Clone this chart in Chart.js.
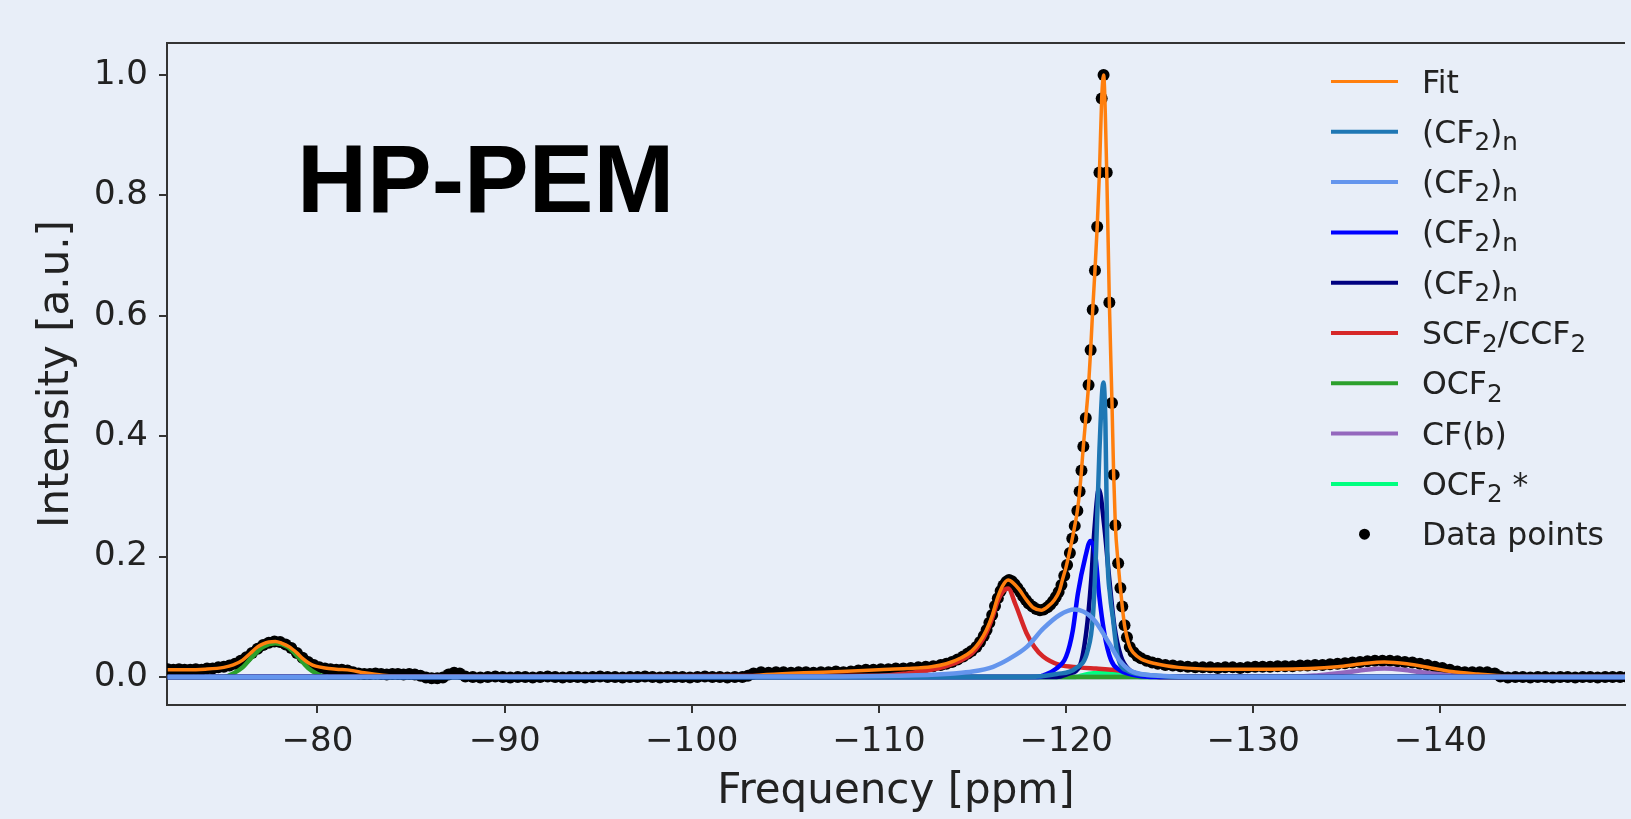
<!DOCTYPE html>
<html>
<head>
<meta charset="utf-8">
<script src="https://cdn.jsdelivr.net/npm/chart.js@4/dist/chart.umd.min.js"></script>
<style>
  html, body { margin: 0; padding: 0; background: #e8eef8; overflow: hidden; }
  #wrap { width: 1631px; height: 819px; }
</style>
</head>
<body>
<div id="wrap"><canvas id="spectrum" width="1631" height="819"></canvas></div>
<script>
// ---- data (ppm, intensity) ----
const xTicks = [-80, -90, -100, -110, -120, -130, -140];
const yTicks = [0, 0.2, 0.4, 0.6, 0.8, 1.0];

const seriesLabels = ['Fit', '(CF_2)_n', '(CF_2)_n', '(CF_2)_n', '(CF_2)_n',
  'SCF_2/CCF_2', 'OCF_2', 'CF(b)', 'OCF_2 *', 'Data points'];
const seriesColors = ['#ff7f0e', '#1f77b4', '#6495ed', '#0000ff', '#000080',
  '#d62728', '#2ca02c', '#9467bd', '#00ff7f', '#000000'];

const fitCurve = [
  [-72,.012],[-73,.012],[-74,.013],[-75,.016],[-75.5,.02],[-76,.028],[-76.4,.039],[-76.8,.05],
  [-77.1,.055],[-77.4,.058],[-77.75,.059],[-78.1,.056],[-78.5,.05],[-78.9,.04],[-79.2,.031],
  [-79.6,.022],[-79.9,.018],[-80.4,.015],[-81,.013],[-81.8,.011],[-82.5,.007],[-83.5,.003],
  [-85,.0015],[-103,.0015],[-104,.004],[-106,.007],[-108,.009],[-110,.012],[-111.5,.014],
  [-112.8,.017],[-113.6,.022],[-114.4,.032],[-114.95,.043],[-115.37,.058],[-115.74,.078],
  [-116.06,.103],[-116.33,.131],[-116.6,.151],[-116.9,.161],[-117.18,.156],[-117.5,.145],
  [-117.88,.128],[-118.25,.115],[-118.67,.111],[-119.06,.118],[-119.37,.128],[-119.64,.143],
  [-119.8,.161],[-120,.183],[-120.17,.206],[-120.33,.23],[-120.46,.251],[-120.6,.276],
  [-120.72,.308],[-120.82,.343],[-120.92,.383],[-121.05,.43],[-121.2,.485],[-121.31,.543],
  [-121.42,.61],[-121.54,.675],[-121.66,.748],[-121.78,.838],[-121.9,.961],[-122,1.0],
  [-122.17,.838],[-122.31,.622],[-122.45,.455],[-122.54,.336],[-122.63,.252],[-122.78,.189],
  [-122.9,.148],[-123,.117],[-123.12,.086],[-123.25,.066],[-123.4,.05],[-123.6,.04],
  [-124,.03],[-124.8,.022],[-126,.016],[-128,.013],[-131,.013],[-133,.014],[-134.5,.017],
  [-135.8,.022],[-137,.025],[-138.2,.022],[-139.5,.015],[-140.6,.009],[-142,.005],
  [-143.5,.002],[-150,.0015]
];

const cf2nA = [
  [-72,0],[-118,0],[-119.5,.005],[-120.5,.014],[-121.16,.045],[-121.43,.1],[-121.6,.21],
  [-121.78,.377],[-121.99,.489],[-122.1,.42],[-122.2,.21],[-122.35,.135],[-122.49,.1],
  [-122.76,.034],[-123.3,.01],[-124.5,.003],[-126,0],[-150,0]
];
const cf2nB = [
  [-72,0],[-108,.001],[-112,.003],[-114,.006],[-115,.009],[-116.1,.017],[-117,.031],
  [-117.9,.05],[-118.8,.081],[-119.65,.103],[-120.45,.112],[-121.43,.097],[-122.3,.056],
  [-122.84,.028],[-123.37,.012],[-124,.005],[-125,.002],[-127,0],[-150,0]
];
const cf2nC = [
  [-72,0],[-118.5,0],[-118.8,.003],[-119.47,.014],[-120,.034],[-120.36,.078],[-120.63,.139],
  [-121.03,.2],[-121.3,.226],[-121.57,.2],[-121.75,.14],[-122.04,.073],[-122.4,.028],
  [-122.84,.012],[-123.5,.004],[-124.5,0],[-150,0]
];
const cf2nD = [
  [-72,0],[-119.5,0],[-120.18,.006],[-120.71,.017],[-121.07,.073],[-121.34,.161],
  [-121.51,.244],[-121.75,.312],[-122.04,.25],[-122.31,.161],[-122.58,.084],[-122.93,.034],
  [-123.37,.012],[-124,.004],[-125,0],[-150,0]
];
const scf2 = [
  [-72,0],[-110,.002],[-111.5,.006],[-112.8,.012],[-113.6,.018],[-114.4,.028],[-114.95,.039],
  [-115.37,.054],[-115.74,.074],[-116.06,.099],[-116.33,.125],[-116.6,.141],[-116.9,.147],
  [-117.3,.12],[-117.88,.073],[-118.3,.05],[-118.77,.034],[-119.65,.02],[-120.7,.016],
  [-121.6,.014],[-122.5,.012],[-123.2,.009],[-123.8,.004],[-125,0],[-150,0]
];
const ocf2 = [
  [-72,0],[-75,0],[-75.5,.006],[-76,.016],[-76.5,.033],[-77.1,.05],[-77.75,.056],
  [-78.4,.05],[-79,.032],[-79.5,.015],[-80,.005],[-80.6,0],[-150,0]
];
const cfb = [
  [-72,0],[-132,0],[-133.5,.003],[-135,.008],[-136,.012],[-137,.014],[-138,.012],
  [-139,.008],[-140.5,.003],[-142,0],[-150,0]
];
const ocf2Star = [
  [-72,0],[-120.5,0],[-121,.004],[-121.8,.007],[-122.6,.005],[-123.4,.002],[-124,0],[-150,0]
];

const dataPoints = [
  [-72,.013],[-72.3,.012],[-72.6,.013],[-72.9,.012],[-73.2,.012],[-73.5,.013],[-73.8,.012],
  [-74.1,.014],[-74.4,.014],[-74.7,.016],[-75,.017],[-75.3,.019],[-75.6,.022],[-75.9,.027],
  [-76.2,.033],[-76.5,.04],[-76.8,.047],[-77.1,.053],[-77.4,.057],[-77.7,.059],[-78,.058],
  [-78.3,.054],[-78.6,.048],[-78.9,.04],[-79.2,.032],[-79.5,.025],[-79.8,.02],[-80.1,.016],
  [-80.4,.014],[-80.7,.013],[-81,.012],[-81.3,.012],[-81.6,.011],[-81.9,.008],
  [-82.2,.006],[-82.5,.005],[-82.8,.005],[-83.1,.006],[-83.4,.005],[-83.7,.004],[-84,.005],
  [-84.3,.005],[-84.6,.004],[-84.9,.005],[-85.2,.004],[-85.5,.002],[-85.8,-.001],[-86.1,-.002],
  [-86.4,-.002],[-86.7,-.001],[-87,.004],[-87.3,.007],[-87.6,.006],[-87.9,.001],
  [-88.3,0],[-88.7,-.001],[-89.1,0],[-89.5,.001],[-89.9,0],[-90.3,-.001],[-90.7,0],[-91.1,0],
  [-91.5,-.001],[-91.9,0],[-92.3,.001],[-92.7,0],[-93.1,-.001],[-93.5,0],[-93.9,0],
  [-94.3,-.001],[-94.7,0],[-95.1,.001],[-95.5,0],[-95.9,0],[-96.3,-.001],[-96.7,0],[-97.1,0],
  [-97.5,.001],[-97.9,0],[-98.3,-.001],[-98.7,0],[-99.1,0],[-99.5,0],[-99.9,-.001],[-100.3,0],
  [-100.7,.001],[-101.1,0],[-101.5,0],[-101.9,-.001],[-102.3,0],[-102.7,0],[-103,.002],
  [-103.3,.006],[-103.7,.008],[-104.1,.007],[-104.5,.008],[-104.9,.008],[-105.3,.007],
  [-105.7,.008],[-106.1,.008],[-106.5,.007],[-106.9,.008],[-107.3,.008],[-107.7,.009],
  [-108.1,.008],[-108.5,.009],[-108.9,.011],[-109.3,.012],[-109.7,.012],[-110.1,.013],
  [-110.5,.013],[-110.9,.014],[-111.3,.014],[-111.7,.015],[-112.1,.016],[-112.5,.017],
  [-112.9,.018],[-113.3,.02],[-113.6,.022],[-113.9,.025],[-114.2,.029],[-114.5,.034],
  [-114.75,.039],[-114.95,.043],[-115.2,.05],[-115.4,.058],[-115.6,.068],[-115.75,.078],
  [-115.9,.09],[-116.05,.103],[-116.2,.118],[-116.35,.131],[-116.5,.143],[-116.65,.152],
  [-116.8,.158],[-116.95,.161],[-117.1,.159],[-117.25,.154],[-117.4,.148],[-117.55,.141],
  [-117.7,.134],[-117.85,.128],[-118,.122],[-118.2,.117],[-118.4,.113],[-118.6,.111],
  [-118.8,.112],[-119,.116],[-119.15,.12],[-119.3,.126],[-119.45,.133],[-119.6,.141],
  [-119.75,.153],[-119.9,.168],[-120.05,.186],[-120.2,.206],[-120.33,.23],[-120.46,.251],
  [-120.6,.276],[-120.72,.308],[-120.82,.343],[-120.92,.383],[-121.05,.43],[-121.2,.485],
  [-121.31,.543],[-121.42,.61],[-121.54,.675],[-121.66,.748],[-121.78,.838],[-121.9,.961],
  [-122,1.0],[-122.17,.838],[-122.31,.622],[-122.45,.455],[-122.54,.336],[-122.63,.252],
  [-122.78,.189],[-122.9,.148],[-123,.117],[-123.12,.086],[-123.25,.066],[-123.4,.05],
  [-123.6,.041],[-123.8,.035],[-124,.031],[-124.3,.027],[-124.6,.024],[-124.9,.022],
  [-125.3,.02],[-125.7,.019],[-126.1,.018],[-126.5,.017],[-126.9,.016],[-127.3,.016],
  [-127.7,.016],[-128.1,.015],[-128.5,.016],[-128.9,.016],[-129.3,.015],[-129.7,.016],
  [-130.1,.017],[-130.5,.017],[-130.9,.017],[-131.3,.018],[-131.7,.018],[-132.1,.018],
  [-132.5,.019],[-132.9,.019],[-133.3,.02],[-133.7,.02],[-134.1,.021],[-134.5,.022],
  [-134.9,.023],[-135.3,.024],[-135.7,.025],[-136.1,.026],[-136.5,.027],[-136.9,.027],
  [-137.3,.027],[-137.7,.026],[-138.1,.025],[-138.5,.024],[-138.9,.022],[-139.3,.02],
  [-139.7,.017],[-140.1,.015],[-140.5,.012],[-140.9,.009],[-141.3,.008],[-141.7,.008],
  [-142.1,.008],[-142.5,.008],[-142.9,.006],[-143.2,.001],[-143.6,-.001],[-144,0],[-144.4,0],
  [-144.8,-.001],[-145.2,0],[-145.6,0],[-146,-.001],[-146.4,0],[-146.8,0],[-147.2,-.001],
  [-147.6,0],[-148,0],[-148.4,-.001],[-148.8,0],[-149.2,0],[-149.6,0],[-150,0]
];

// ---- chart ----
const BG = '#e8eef8';
const INK = '#222';
const AXIS = '#333';

const toXY = arr => arr.map(([x, y]) => ({ x, y }));
const plain = s => s.replace(/_2/g, '\u2082').replace(/_n/g, '\u2099');

// order: lower value is painted later (on top)
function lineSet(i, pts, width, order) {
  return {
    label: plain(seriesLabels[i]),
    data: toXY(pts),
    borderColor: seriesColors[i],
    backgroundColor: seriesColors[i],
    borderWidth: width,
    pointRadius: 0,
    cubicInterpolationMode: 'monotone',
    fill: false,
    order,
  };
}

const datasets = [
  lineSet(0, fitCurve, 3.5, 2),
  lineSet(1, cf2nA, 4.5, 1),
  lineSet(2, cf2nB, 4.5, 0),
  lineSet(3, cf2nC, 4.5, 1),
  lineSet(4, cf2nD, 4.5, 1),
  lineSet(5, scf2, 4.5, 3),
  lineSet(6, ocf2, 4.5, 3),
  lineSet(7, cfb, 4.5, 3),
  lineSet(8, ocf2Star, 4.5, 3),
  {
    label: seriesLabels[9],
    data: toXY(dataPoints),
    showLine: false,
    pointRadius: 6,
    pointBorderWidth: 0,
    pointBackgroundColor: '#000',
    borderColor: '#000',
    backgroundColor: '#000',
    order: 4,
  },
];

// background, top frame line, HP-PEM label and the in-plot legend
const decor = {
  id: 'decor',
  beforeDraw(chart) {
    const { ctx, width, height } = chart;
    ctx.save();
    ctx.fillStyle = BG;
    ctx.fillRect(0, 0, width, height);
    ctx.restore();
  },
  afterDraw(chart) {
    const { ctx, chartArea: a } = chart;
    ctx.save();
    ctx.strokeStyle = AXIS;
    ctx.lineWidth = 2;
    ctx.beginPath();
    ctx.moveTo(a.left - 1, a.top);
    ctx.lineTo(a.right, a.top);
    ctx.stroke();

    ctx.fillStyle = '#000';
    ctx.font = 'bold 97px "Liberation Sans", Arial, sans-serif';
    ctx.textBaseline = 'alphabetic';
    ctx.fillText('HP-PEM', a.left + 130, a.top + 169);

    // legend, drawn in the matplotlib order
    const size = 31.5;
    const x0 = a.right - 294, x1 = a.right - 227, tx = a.right - 203;
    seriesLabels.forEach((lab, i) => {
      const y = a.top + 38.5 + i * 50.3;
      if (i === seriesLabels.length - 1) {
        ctx.fillStyle = seriesColors[i];
        ctx.beginPath();
        ctx.arc((x0 + x1) / 2, y, 5.5, 0, Math.PI * 2);
        ctx.fill();
      } else {
        ctx.strokeStyle = seriesColors[i];
        ctx.lineWidth = i === 0 ? 3 : 4;
        ctx.beginPath();
        ctx.moveTo(x0, y);
        ctx.lineTo(x1, y);
        ctx.stroke();
      }
      ctx.fillStyle = INK;
      let x = tx;
      lab.split(/_(\S)/).forEach((part, k) => {
        const sub = k % 2 === 1;
        ctx.font = (sub ? size * 0.78 : size) + 'px "DejaVu Sans"';
        ctx.fillText(part, x, y + 11 + (sub ? size * 0.24 : 0));
        x += ctx.measureText(part).width;
      });
    });
    ctx.restore();
  },
};

const minus = v => (v < 0 ? '\u2212' + Math.abs(v) : String(v));

new Chart(document.getElementById('spectrum'), {
  type: 'line',
  data: { datasets },
  plugins: [decor],
  options: {
    responsive: false,
    devicePixelRatio: 1,
    animation: false,
    events: [],
    layout: { padding: { top: 43, left: 0, right: 0, bottom: 0 } },
    plugins: { legend: { display: false }, tooltip: { enabled: false } },
    scales: {
      x: {
        type: 'linear',
        reverse: true,
        min: -149.86,
        max: -71.96,
        afterBuildTicks: s => { s.ticks = xTicks.map(value => ({ value })); },
        afterFit: s => { s.height = 114; },
        grid: { drawOnChartArea: false, drawTicks: true, tickLength: 8, color: AXIS, lineWidth: 2 },
        border: { display: true, color: AXIS, width: 2 },
        ticks: {
          color: INK, padding: 9, maxRotation: 0, autoSkip: false,
          font: { family: 'DejaVu Sans', size: 34 },
          callback: v => minus(v),
        },
        title: {
          display: true, text: 'Frequency [ppm]', color: INK,
          font: { family: 'DejaVu Sans', size: 42 },
          padding: { top: 0, bottom: 2 },
        },
      },
      y: {
        type: 'linear',
        min: -0.0465,
        max: 1.053,
        afterBuildTicks: s => { s.ticks = yTicks.map(value => ({ value })); },
        afterFit: s => { s.width = 167; },
        grid: { drawOnChartArea: false, drawTicks: true, tickLength: 8, color: AXIS, lineWidth: 2 },
        border: { display: true, color: AXIS, width: 2 },
        ticks: {
          color: INK, padding: 11, autoSkip: false,
          font: { family: 'DejaVu Sans', size: 34 },
          callback: v => v.toFixed(1),
        },
        title: {
          display: true, text: 'Intensity [a.u.]', color: INK,
          font: { family: 'DejaVu Sans', size: 42 },
          padding: { top: 32, bottom: 0 },
        },
      },
    },
  },
});
</script>
</body>
</html>
